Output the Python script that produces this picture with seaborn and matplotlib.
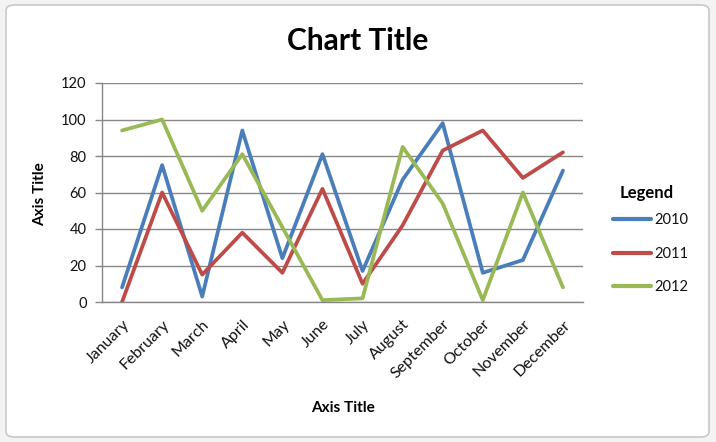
import matplotlib
matplotlib.use("Agg")
import matplotlib.pyplot as plt
import seaborn as sns
import pandas as pd
from matplotlib.patches import FancyBboxPatch

months = ["January", "February", "March", "April", "May", "June", "July",
          "August", "September", "October", "November", "December"]
s2010 = [8, 75, 3, 94, 24, 81, 17, 67, 98, 16, 23, 72]
s2011 = [0, 60, 15, 38, 16, 62, 10, 42, 83, 94, 68, 82]
s2012 = [94, 100, 50, 81, 41, 1, 2, 85, 54, 1, 60, 8]
years = ["2010", "2011", "2012"]
colors = ["#4A7EBB", "#BE4B48", "#98B954"]
y_ticks = [0, 20, 40, 60, 80, 100, 120]

rows = []
for yr, vals in zip(years, [s2010, s2011, s2012]):
    for i, v in enumerate(vals):
        rows.append({"idx": i, "value": v, "year": yr})
df = pd.DataFrame(rows)

sns.set_theme(style="white")
plt.rcParams["font.family"] = ["Lato", "DejaVu Sans"]
plt.rcParams["text.color"] = "black"

fig = plt.figure(figsize=(7.16, 4.42), dpi=100, facecolor="#f3f3f3")
frame = FancyBboxPatch((6 / 716, 5 / 442), 703 / 716, 432 / 442,
                       boxstyle="round,pad=0,rounding_size=0.012",
                       transform=fig.transFigure, facecolor="white",
                       edgecolor="#c8c8c8", linewidth=1.2, zorder=-10)
fig.patches.append(frame)

ax = fig.add_axes([102 / 716, 1 - 302 / 442, (583 - 102) / 716, (302 - 83) / 442])
ax.set_facecolor("none")
ax.set_zorder(5)

sns.lineplot(data=df, x="idx", y="value", hue="year", palette=colors,
             linewidth=2.7, ax=ax, legend=False, sort=False)

ax.set_xlim(-0.5, 11.5)
ax.set_ylim(0, 120)
ax.set_yticks(y_ticks)
ax.set_yticklabels([str(t) for t in y_ticks], fontsize=10.5, color="#111111")
ax.set_xticks(range(len(months)))
ax.set_xticklabels(months, rotation=45, ha="right", rotation_mode="anchor",
                   fontsize=11.5, color="#111111")
ax.tick_params(axis="y", which="both", left=True, length=5, color="#878787",
               width=1, pad=6)
ax.tick_params(axis="x", which="both", bottom=False, pad=5)
ax.yaxis.grid(True, color="#878787", linewidth=1)
ax.set_axisbelow(True)
for s in ["top", "right"]:
    ax.spines[s].set_visible(False)
for s in ["left", "bottom"]:
    ax.spines[s].set_color("#878787")
    ax.spines[s].set_linewidth(1)

ax.set_xlabel("")
ax.set_ylabel("")
fig.text(343 / 716, 1 - 408 / 442, "Axis Title", ha="center", va="center",
         fontsize=11, fontweight="bold", color="black")
fig.text(40 / 716, 1 - 194 / 442, "Axis Title", ha="center", va="center",
         rotation=90, fontsize=11, fontweight="bold", color="black")
fig.text(358 / 716, 1 - 41 / 442, "Chart Title", ha="center", va="center",
         fontsize=21.5, fontweight="bold", color="black")
fig.text(647 / 716, 1 - 193 / 442, "Legend", ha="center", va="center",
         fontsize=12, fontweight="bold", color="black")

handles = [plt.Line2D([], [], color=c, linewidth=3) for c in colors]
leg = fig.legend(handles, years, loc="upper left",
                 bbox_to_anchor=(600 / 716, 1 - 200 / 442), frameon=False,
                 fontsize=10.5, handlelength=2.6,
                 handletextpad=0.25, labelspacing=1.35, labelcolor="#111111")

fig.savefig("out.png", dpi=100, facecolor=fig.get_facecolor())
